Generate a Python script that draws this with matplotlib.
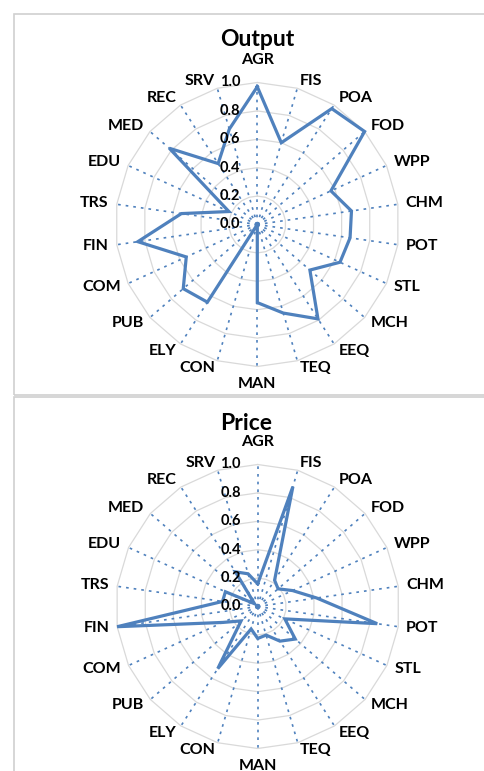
import numpy as np
import matplotlib.pyplot as plt
from matplotlib.patches import Rectangle

# ===== DATOS =====
sectores = ['AGR', 'FIS', 'POA', 'FOD', 'WPP', 'CHM', 'POT', 'STL', 'MCH', 'EEQ', 'TEQ',
            'MAN', 'CON', 'ELY', 'PUB', 'COM', 'FIN', 'TRS', 'EDU', 'MED', 'REC', 'SRV']

# valores (escala 0-1)
output_vals = [0.97, 0.60, 0.97, 1.00, 0.57, 0.67, 0.66, 0.64, 0.49, 0.79, 0.65,
               0.55, 0.00, 0.65, 0.69, 0.55, 0.85, 0.54, 0.22, 0.82, 0.51, 0.70]
price_vals = [0.16, 0.88, 0.22, 0.19, 0.27, 0.42, 0.85, 0.21, 0.35, 0.29, 0.21,
              0.225, 0.165, 0.52, 0.155, 0.27, 1.00, 0.25, 0.25, 0.03, 0.29, 0.24]

ticks_r = [0.0, 0.2, 0.4, 0.6, 0.8, 1.0]
ticks_lbl = ['0.0', '0.2', '0.4', '0.6', '0.8', '1.0']

azul = '#4F81BD'
gris = '#D9D9D9'

plt.rcParams['font.family'] = ['Lato', 'DejaVu Sans']

W, H = 485, 771
fig = plt.figure(figsize=(W / 100, H / 100), dpi=100)

# marcos de cada panel (en pixeles)
fig.patches.append(Rectangle((14 / W, 1 - 395 / H), 500 / W, (395 - 14) / H, transform=fig.transFigure,
                             fill=False, edgecolor='#D0D0D0', lw=1.2))
fig.patches.append(Rectangle((14 / W, -0.05), 500 / W, 1 - 397 / H + 0.05, transform=fig.transFigure,
                             fill=False, edgecolor='#D0D0D0', lw=1.2))


def radar(cx, cy, R, valores, titulo, tx, ty):
    ax = fig.add_axes([(cx - R) / W, (H - cy - R) / H, 2 * R / W, 2 * R / H], projection='polar')
    ax.set_theta_zero_location('N')
    ax.set_theta_direction(-1)
    ax.set_ylim(0, 1)
    ax.grid(False)
    ax.spines['polar'].set_visible(False)
    ax.set_xticks([])
    ax.set_yticks([])
    ax.patch.set_alpha(0)

    n = len(sectores)
    ang = np.arange(n) * 2 * np.pi / n
    ang_c = np.append(ang, ang[0])

    # anillos (poligonos)
    for v in ticks_r[1:]:
        ax.plot(ang_c, [v] * (n + 1), color=gris, lw=0.9, zorder=1, clip_on=False)

    # radios punteados
    for a in ang:
        ax.plot([a, a], [0, 1], color=azul, lw=1.2, ls=(0, (1.6, 3.0)), zorder=2, clip_on=False)

    # serie
    vals = list(valores) + [valores[0]]
    ax.plot(ang_c, vals, color=azul, lw=2.3, zorder=4, clip_on=False, solid_joinstyle='miter')

    # etiquetas del eje radial
    for v, t in zip(ticks_r, ticks_lbl):
        ax.annotate(t, xy=(0, v), xytext=(-17, 0), textcoords='offset pixels',
                    ha='right', va='center', fontsize=10.5, fontweight='bold', zorder=5)

    # etiquetas de categorias
    for a, s in zip(ang, sectores):
        sx, sy = np.sin(a), np.cos(a)
        if abs(sx) < 0.05:
            dx, dy = 0, (22 if sy > 0 else -18)
            ha = 'center'
        else:
            dx, dy = 8 * sx, 8 * sy
            ha = 'left' if sx > 0 else 'right'
        ax.annotate(s, xy=(a, 1.0), xytext=(dx, dy), textcoords='offset pixels',
                    ha=ha, va='center', fontsize=11.5, fontweight='bold', annotation_clip=False)

    fig.text(tx / W, 1 - ty / H, titulo, ha='center', va='center', fontsize=16.5, fontweight='bold')
    return ax


radar(257.3, 224.5, 142, output_vals, 'Output', 257, 40)
radar(257.7, 606.5, 142, price_vals, 'Price', 246, 423)

fig.savefig('out.png', dpi=100)
